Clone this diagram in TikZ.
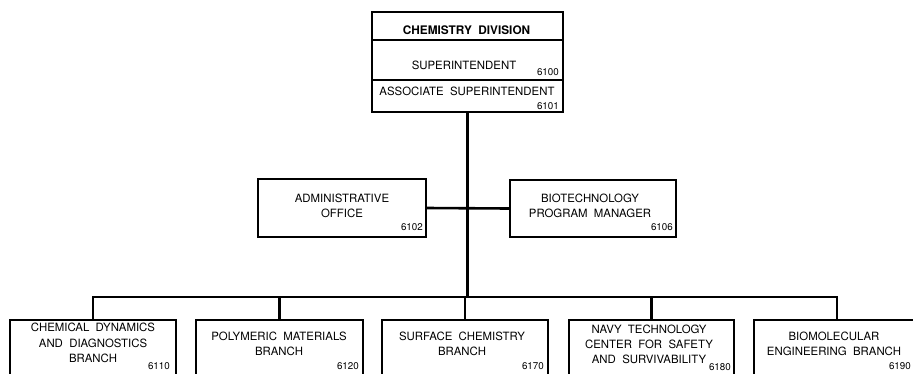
\documentclass[tikz,border=0pt]{standalone}
\usepackage{fontspec}
\setmainfont{TeX Gyre Heros}
\begin{document}
\begin{tikzpicture}[x=1pt,y=-1pt,
  box/.style={draw,line width=1.6pt,rectangle,inner sep=0pt},
  conn/.style={line width=2.6pt},
  txt/.style={inner sep=0pt,font=\fontsize{11.4}{15.2}\selectfont},
  ttl/.style={inner sep=0pt,font=\fontsize{11.8}{15}\selectfont\bfseries},
  num/.style={inner sep=0pt,anchor=east,font=\fontsize{9.8}{10}\selectfont}]
\useasboundingbox (0,0) rectangle (913,373);
\clip (0,0) rectangle (913,373);
% top box
\node[box,minimum width=191pt,minimum height=100pt] (top) at (467.5,62) {};
\draw[line width=1.6pt] (top.west |- 0,40) -- (top.east |- 0,40);
\draw[line width=1.6pt] (top.west |- 0,80) -- (top.east |- 0,80);
\node[ttl] (tt) at (466.5,30) {CHEMISTRY\ \ DIVISION};
\node[txt] (sup) at (464,65) {SUPERINTENDENT};
\node[num] (n6100) at (559,72) {6100};
\node[txt] (asup) at (467,91) {ASSOCIATE\ \ SUPERINTENDENT};
\node[num] (n6101) at (559,106) {6101};
% middle boxes
\node[box,minimum width=168pt,minimum height=58pt] (adm) at (342,208) {};
\node[txt,align=center] (admt) at (342,206) {ADMINISTRATIVE\\OFFICE};
\node[num] (n6102) at (423,227) {6102};
\node[box,minimum width=166pt,minimum height=57pt] (bio) at (593,208.5) {};
\node[txt,align=center] (biot) at (590,206) {BIOTECHNOLOGY\\PROGRAM\ \ MANAGER};
\node[num] (n6106) at (673,227) {6106};
% bottom boxes
\node[box,minimum width=166pt,minimum height=70pt] (b1) at (93,355) {};
\node[box,minimum width=167pt,minimum height=70pt] (b2) at (279.5,355) {};
\node[box,minimum width=166pt,minimum height=70pt] (b3) at (465,355) {};
\node[box,minimum width=165pt,minimum height=70pt] (b4) at (651.5,355) {};
\node[box,minimum width=166pt,minimum height=70pt] (b5) at (837,355) {};
\node[txt,align=center] (b1t) at (93,343) {CHEMICAL\ \ DYNAMICS\\AND\ \ DIAGNOSTICS\\BRANCH};
\node[num] (n6110) at (170,366) {6110};
\node[txt,align=center] (b2t) at (279,344) {POLYMERIC\ \ MATERIALS\\BRANCH};
\node[num] (n6120) at (359,366) {6120};
\node[txt,align=center] (b3t) at (462,344) {SURFACE\ \ CHEMISTRY\\BRANCH};
\node[num] (n6170) at (544,366) {6170};
\node[txt,align=center] (b4t) at (649,344.5) {NAVY\ \ TECHNOLOGY\\CENTER\ \ FOR\ \ SAFETY\\AND\ \ SURVIVABILITY};
\node[num] (n6180) at (731,367) {6180};
\node[txt,align=center] (b5t) at (834,344) {BIOMOLECULAR\\ENGINEERING\ \ BRANCH};
\node[num] (n6190) at (911,366) {6190};
% connectors
\coordinate (bar) at (467.5,297);
\draw[conn] (top.south) -- (bar);
\draw[conn] (adm.east) -- (bio.west);
\draw[conn] (b1.north) |- (b5.north |- bar) -- (b5.north);
\draw[conn] (b2.north) -- (b2.north |- bar);
\draw[conn] (b3.north) -- (b3.north |- bar);
\draw[conn] (b4.north) -- (b4.north |- bar);
\end{tikzpicture}
\end{document}
